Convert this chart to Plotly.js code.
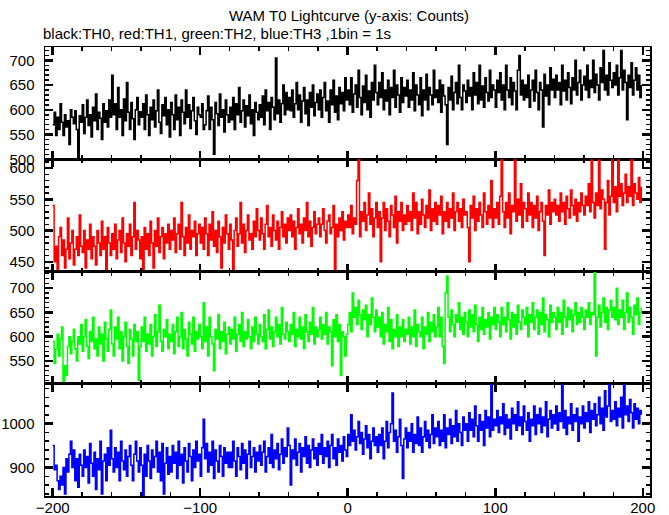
<!DOCTYPE html>
<html>
<head>
<meta charset="utf-8">
<script src="https://cdn.plot.ly/plotly-3.0.1.min.js"></script>
<style>html,body{margin:0;padding:0;background:#fff;}#chart{width:669px;height:515px;}</style>
</head>
<body>
<div id="chart"></div>
<script>
// ---- data (counts per 1 s bin, bins start at -200 s) ----
const binStart = -200;
const binSize = 1;

const th0 = [
570,595,548,585,560,612,575,548,590,565,578,530,600,585,572,598,560,500,588,575,
610,552,585,620,568,590,545,605,578,632,560,595,583,540,612,575,598,565,620,585,
670,590,612,560,645,585,600,548,622,578,655,595,560,615,582,540,600,625,570,596,
585,612,560,630,590,548,605,580,620,565,598,640,575,552,610,588,625,570,600,545,
615,590,560,630,580,605,548,620,595,572,640,585,610,562,598,625,578,550,605,590,
585,612,560,570,598,628,560,605,580,510,615,592,568,632,585,600,555,620,590,575,
605,580,625,560,612,590,645,575,598,620,565,608,588,630,572,600,548,615,595,580,
610,585,628,570,640,598,615,560,625,605,580,705,592,620,575,612,650,590,635,600,
625,598,640,585,612,655,600,630,575,618,645,592,620,568,635,605,650,588,615,632,
600,640,585,625,655,598,618,575,640,610,660,595,628,580,645,612,635,598,665,620,
640,610,665,595,632,650,605,680,625,590,648,615,670,600,638,585,655,620,690,635,
610,655,625,675,600,640,618,660,590,645,625,680,605,650,630,595,665,615,645,628,
660,605,640,620,675,598,650,630,610,665,588,640,620,672,600,645,630,610,680,625,
640,615,660,595,650,628,610,530,645,620,668,600,635,655,612,690,625,600,650,638,
615,660,628,645,600,675,630,655,612,690,620,648,605,665,635,618,680,625,650,640,
605,660,635,675,620,650,600,690,640,625,665,610,655,638,600,680,710,630,660,620,
650,625,670,605,640,660,618,680,635,600,655,640,565,672,628,650,610,685,640,662,
625,670,640,655,610,690,638,660,620,675,645,612,665,640,700,630,655,680,620,650,
668,640,690,625,660,645,700,635,672,650,620,685,655,720,640,670,630,695,660,645,
675,650,690,630,665,720,640,680,655,580,670,645,695,630,660,685,640,670,625,650
];

const th1 = [
540,450,475,430,490,505,460,485,440,470,520,455,480,500,445,470,490,460,525,475,
465,500,440,485,470,510,455,490,475,445,500,480,460,515,470,490,435,505,480,460,
495,470,510,455,485,500,465,520,480,450,495,475,510,460,490,545,470,500,485,455,
490,430,505,470,495,460,515,480,440,500,475,520,465,490,505,455,495,480,510,470,
500,485,520,465,495,510,470,545,490,460,505,480,525,470,500,490,515,460,495,510,
480,505,470,520,495,460,510,485,530,475,500,465,515,490,440,505,480,525,495,470,
510,485,430,500,520,475,495,545,480,510,465,500,525,485,495,470,515,490,535,500,
485,520,495,470,510,540,490,505,475,525,500,485,515,470,505,530,490,510,480,520,
500,525,490,515,470,505,535,495,510,480,520,500,545,490,515,475,505,530,495,510,
520,490,510,535,500,480,515,525,495,505,540,430,510,490,520,500,530,485,515,505,
525,505,540,495,520,510,580,620,490,530,515,545,500,525,560,510,535,490,520,545,
505,530,450,520,545,500,535,515,490,540,525,505,555,480,530,515,545,500,525,510,
540,515,530,500,560,520,545,495,530,510,550,525,505,540,520,565,500,535,515,545,
510,540,525,555,495,530,515,545,505,535,520,560,500,530,545,515,535,505,550,525,
530,505,450,540,520,555,500,535,515,545,525,505,560,530,510,540,520,580,505,535,
520,545,510,555,620,530,505,545,520,560,495,540,530,620,515,550,525,575,505,545,
535,515,560,525,545,505,540,520,555,500,530,545,515,460,540,525,565,510,545,530,
550,525,540,515,560,530,545,510,555,535,520,565,540,525,550,515,545,530,560,540,
525,555,540,575,530,620,545,520,560,540,615,535,565,550,470,545,580,525,555,620,
545,570,530,615,555,575,540,560,590,545,570,555,620,540,575,560,550,585,545,570
];

const th2 = [
590,545,575,605,560,595,620,505,540,520,580,600,565,590,615,575,550,600,585,625,
570,600,635,580,555,610,590,640,575,595,560,620,585,605,550,630,595,570,615,655,
585,560,620,595,640,575,610,550,600,630,580,545,615,595,560,625,590,610,510,580,
620,590,640,570,605,585,625,560,600,645,580,610,665,590,570,615,600,635,575,605,
590,625,565,610,640,580,600,650,575,615,595,560,630,605,585,640,570,610,595,625,
600,575,670,590,620,560,640,600,585,530,615,595,645,575,610,590,630,565,605,620,
585,615,595,640,570,605,625,590,650,580,610,595,635,600,575,620,590,640,605,585,
625,600,590,645,575,615,655,595,620,580,610,640,600,625,585,660,605,595,630,610,
590,625,605,650,580,615,600,640,595,620,575,645,610,590,630,605,660,585,620,600,
615,640,595,625,605,650,585,620,610,540,635,600,645,590,625,520,610,600,560,605,
625,650,610,690,640,660,625,675,645,615,655,635,665,600,645,625,680,640,610,655,
620,640,600,650,585,625,610,660,590,635,575,615,600,645,580,620,600,635,590,615,
605,640,585,620,600,655,580,625,610,600,640,575,620,605,650,590,630,610,645,600,
620,660,600,640,580,545,690,725,640,610,655,625,600,645,630,670,615,640,605,650,
630,600,655,620,645,610,665,625,590,640,615,660,605,635,620,650,595,640,625,660,
615,645,630,600,660,625,640,610,670,635,595,650,620,645,605,665,630,615,655,640,
625,660,600,645,630,670,615,640,655,605,650,625,680,610,645,635,600,665,630,650,
640,615,660,630,650,605,675,640,620,660,635,655,610,645,670,625,650,630,660,640,
615,655,640,670,625,650,645,735,560,640,665,620,650,680,630,660,615,655,675,640,
660,635,700,625,655,640,675,615,650,690,630,660,640,605,665,645,680,625,650,660
];

const th3 = [
950,895,905,870,850,880,860,900,840,920,890,930,960,900,940,870,920,855,930,905,
880,940,900,925,865,955,910,880,935,850,920,895,960,840,915,930,870,945,905,985,
920,890,945,900,935,870,960,915,895,940,880,925,950,905,870,930,960,915,890,945,
905,835,930,880,950,915,875,940,900,925,960,890,935,870,955,840,910,945,885,925,
890,950,910,935,875,960,905,930,865,945,915,890,955,925,870,940,900,960,915,930,
880,945,1010,920,955,890,935,905,960,875,940,915,890,950,925,880,945,910,935,900,
935,900,960,915,880,945,925,895,955,910,940,875,930,960,900,925,945,890,935,915,
950,905,935,960,890,925,945,910,975,900,940,920,955,895,930,965,910,945,925,990,
950,860,940,920,965,905,935,955,890,945,925,970,910,950,900,940,965,920,945,905,
955,930,975,910,945,925,960,900,950,975,920,945,905,965,935,950,915,970,940,925,
975,950,1020,960,985,940,970,1005,955,980,930,965,995,945,975,920,960,990,950,970,
935,975,950,990,920,960,1005,945,980,1000,1070,960,985,935,970,1010,950,875,965,990,
945,980,960,1000,935,975,955,1015,950,990,935,970,1005,960,985,945,975,1020,955,990,
970,1005,950,985,960,1020,945,990,975,1010,955,995,970,1030,960,1000,980,950,1015,985,
1000,960,1025,985,1010,970,1040,995,960,1020,985,1005,950,1030,990,1015,970,1090,985,1010,
995,1030,980,1015,1000,1045,975,1020,990,1010,965,1035,1000,1020,985,1050,995,1015,975,1040,
1005,985,1025,960,1010,995,1040,975,1020,1000,1035,980,1015,995,1050,970,1010,1030,990,1020,
1000,1040,985,1025,1005,1090,990,1030,975,1015,1000,1045,985,1020,1005,1035,960,1015,1000,1040,
990,1025,1005,1050,980,1030,1010,1045,995,1020,1060,1000,1035,985,1075,1015,1040,1090,1005,1030,
1010,1050,995,1035,1015,1060,990,1090,1020,1040,1005,1055,1025,990,1045,1010,1035,1000,1030,1020
];

const seriesNames = ["TH0", "TH1", "TH2", "TH3"];
const seriesColors = ["#000000", "#ff0000", "#00ff00", "#0000ff"];
const xTickVals = [-200, -100, 0, 100, 200];
const xTickText = ["\u2212200", "\u2212100", "0", "100", "200"];

const titleText = "WAM T0 Lightcurve (y-axis: Counts)";
const subtitleText = "black:TH0, red:TH1, green:TH2, blue:TH3 ,1bin = 1s";

// ---- build ----
const allSeries = [th0, th1, th2, th3];
const xBins = th0.map((_, i) => binStart + i * binSize);

const traces = allSeries.map((ys, k) => ({
  x: xBins,
  y: ys,
  type: "scatter",
  mode: "lines",
  line: { color: seriesColors[k], width: 1.5, shape: "hv" },
  name: seriesNames[k],
  xaxis: k === 0 ? "x" : "x" + (k + 1),
  yaxis: k === 0 ? "y" : "y" + (k + 1),
  hoverinfo: "x+y"
}));

const font = { family: "Liberation Sans, Arial, sans-serif", size: 15, color: "#000" };

function xax(showLabels, anchor) {
  return {
    range: [-205.2, 204.9],
    anchor: anchor,
    showgrid: false, zeroline: false,
    showline: true, linecolor: "#000", linewidth: 1.5,
    mirror: "allticks",
    ticks: "inside", ticklen: 8, tickwidth: 2.5, tickcolor: "#000",
    tickmode: "array", tickvals: xTickVals, ticktext: xTickText,
    showticklabels: showLabels,
    tickfont: font,
    ticklabelstandoff: -3,
    minor: { ticks: "inside", ticklen: 4, tickwidth: 1.5, tickcolor: "#000", dtick: 20, tick0: 0, showgrid: false }
  };
}
function yax(range, dtick, minorDtick, domain, anchor) {
  return {
    range: range,
    domain: domain,
    anchor: anchor,
    showgrid: false, zeroline: false,
    showline: true, linecolor: "#000", linewidth: 1.5,
    mirror: "allticks",
    ticks: "inside", ticklen: 8, tickwidth: 2.5, tickcolor: "#000",
    tick0: 0, dtick: dtick,
    tickfont: font,
    ticklabelstandoff: 6,
    minor: { ticks: "inside", ticklen: 4, tickwidth: 1.5, tickcolor: "#000", dtick: minorDtick, tick0: 0, showgrid: false }
  };
}

const layout = {
  width: 669, height: 515,
  margin: { l: 45, r: 19, t: 47, b: 19, pad: 0 },
  paper_bgcolor: "#fff", plot_bgcolor: "#fff",
  showlegend: false,
  font: font,
  xaxis: xax(false, "y"),
  xaxis2: xax(false, "y2"),
  xaxis3: xax(false, "y3"),
  xaxis4: xax(true, "y4"),
  yaxis: yax([500, 727], 50, 10, [0.75, 1], "x"),
  yaxis2: yax([434.5, 614], 50, 10, [0.5, 0.75], "x2"),
  yaxis3: yax([503, 734.4], 50, 10, [0.25, 0.5], "x3"),
  yaxis4: yax([835.2, 1090.8], 100, 20, [0, 0.25], "x4"),
  annotations: [
    { text: titleText, xref: "paper", yref: "paper", x: 0.5025, y: 1.07, xanchor: "center", yanchor: "middle", showarrow: false, font: font },
    { text: subtitleText, xref: "paper", yref: "paper", x: -0.006, y: 1.029, xanchor: "left", yanchor: "middle", showarrow: false, font: font }
  ]
};

Plotly.newPlot("chart", traces, layout, { displayModeBar: false, staticPlot: true });
</script>
</body>
</html>
